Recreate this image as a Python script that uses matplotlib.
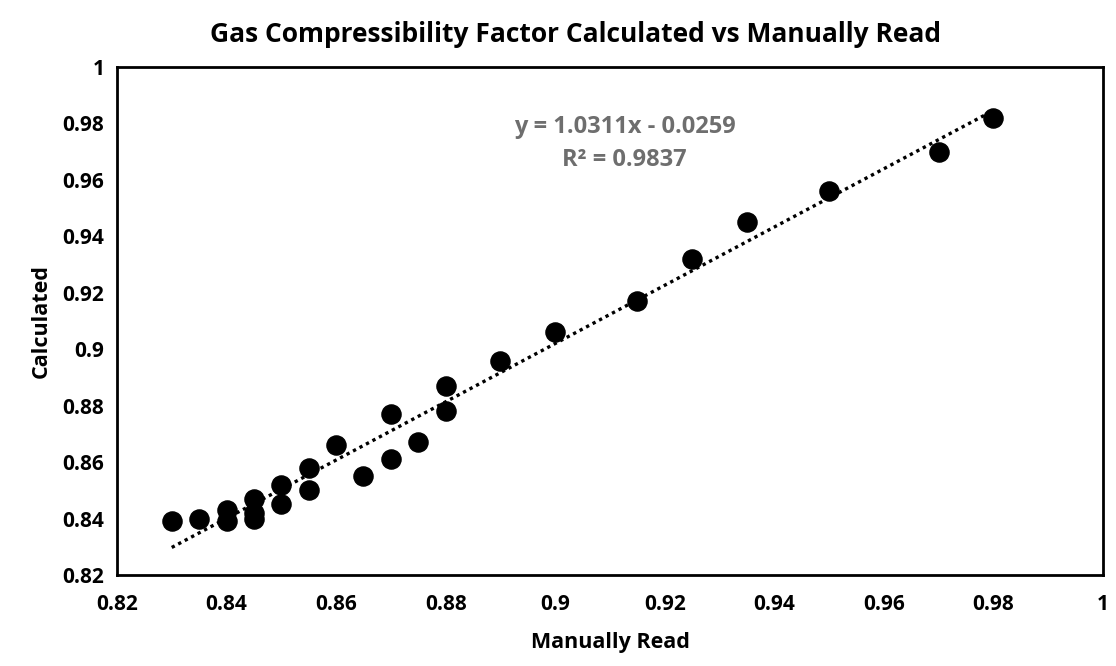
import numpy as np
import matplotlib
matplotlib.use("Agg")
import matplotlib.pyplot as plt

# Manually read vs calculated Z factor
manually_read = [0.83, 0.835, 0.84, 0.84, 0.845, 0.845, 0.845, 0.85, 0.85, 0.855, 0.855,
                 0.86, 0.865, 0.87, 0.87, 0.875, 0.88, 0.88, 0.89, 0.9, 0.915, 0.925,
                 0.935, 0.95, 0.97, 0.98]
calculated = [0.839, 0.840, 0.843, 0.839, 0.847, 0.842, 0.840, 0.852, 0.845, 0.858, 0.850,
              0.866, 0.855, 0.877, 0.861, 0.867, 0.887, 0.878, 0.896, 0.906, 0.917, 0.932,
              0.945, 0.956, 0.970, 0.982]

tick_vals = [0.82, 0.84, 0.86, 0.88, 0.9, 0.92, 0.94, 0.96, 0.98, 1]
tick_labels = ["0.82", "0.84", "0.86", "0.88", "0.9", "0.92", "0.94", "0.96", "0.98", "1"]

plt.rcParams['font.family'] = ['Open Sans', 'DejaVu Sans']
plt.rcParams['font.weight'] = 'bold'

fig = plt.figure(figsize=(11.16, 6.66), dpi=100)
ax = fig.add_axes([0.1048, 0.1366, 0.8836, 0.7628])

ax.scatter(manually_read, calculated, s=190, color='black', zorder=3)

# linear trendline
x = np.array(manually_read)
k, b = np.polyfit(x, calculated, 1)
xl = np.array([x.min(), x.max()])
ax.plot(xl, k * xl + b, color='black', linestyle=(0, (1, 1.2)), linewidth=2.4, zorder=2)

ax.set_xlim(0.82, 1)
ax.set_ylim(0.82, 1)
ax.set_xticks(tick_vals)
ax.set_xticklabels(tick_labels)
ax.set_yticks(tick_vals)
ax.set_yticklabels(tick_labels)
ax.tick_params(length=0, labelsize=15, pad=14)
ax.tick_params(axis='y', pad=9)
for s in ax.spines.values():
    s.set_linewidth(2)

ax.set_xlabel("Manually Read", fontsize=15.5, fontweight='bold', labelpad=12)
ax.set_ylabel("Calculated", fontsize=15.5, fontweight='bold', labelpad=8)
fig.text(0.516, 0.948, "Gas Compressibility Factor Calculated vs Manually Read",
         ha='center', va='center', fontsize=19, fontweight='bold')

ax.text(0.9127, 0.9787, "y = 1.0311x - 0.0259", ha='center', va='center',
        fontsize=17, fontweight='bold', color='#6e6e6e')
ax.text(0.9127, 0.9672, "R² = 0.9837", ha='center', va='center',
        fontsize=17, fontweight='bold', color='#6e6e6e')

fig.savefig("out.png", dpi=100)
